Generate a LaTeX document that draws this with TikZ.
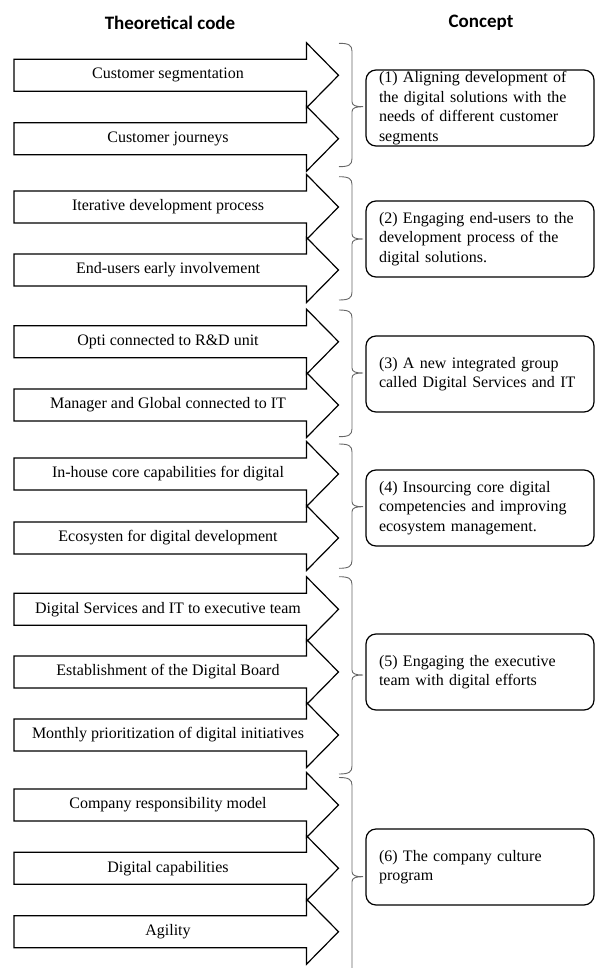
\documentclass[tikz,border=0pt]{standalone}
\usepackage{fontspec}
\setmainfont{Liberation Serif}
\newfontfamily\headfont{Carlito}

\begin{document}
\begin{tikzpicture}[x=1pt,y=-1pt,
    arrowbox/.style={draw=black, fill=white, line width=1.2pt, line join=miter},
    arrowtext/.style={font=\fontsize{16}{19.5}\selectfont},
    conceptbox/.style={draw=black, line width=1.2pt, rounded corners=10pt,
        minimum width=228pt, minimum height=76pt, text width=202pt,
        align=left, inner sep=0pt, font=\fontsize{16}{19.5}\selectfont},
    bracket/.style={draw=black!60, line width=0.9pt},
    header/.style={font=\headfont\bfseries\fontsize{19}{23}\selectfont}]

    \useasboundingbox (0,0) rectangle (595,968);

    % Column headers
    \node[header] (hcode) at (170,23) {Theoretical code};
    \node[header] (hconcept) at (481,23) {Concept};

    % Theoretical codes as block arrows
    \foreach \y/\txt [count=\i] in {59.3/Customer segmentation,
            122.7/Customer journeys,
            191/Iterative development process,
            254/End-users early involvement,
            325.7/Opti connected to R\&D unit,
            389/Manager and Global connected to IT,
            458/In-house core capabilities for digital,
            522/Ecosysten for digital development,
            593.3/Digital Services and IT to executive team,
            656/Establishment of the Digital Board,
            719/Monthly prioritization of digital initiatives,
            789/Company responsibility model,
            852.3/Digital capabilities,
            915.7/Agility}
    {
        \draw[arrowbox] (14,\y) -- (306.5,\y) -- (306.5,\y-16.5) -- (338.5,\y+16)
            -- (306.5,\y+48.5) -- (306.5,\y+32) -- (14,\y+32) -- cycle;
        \node[arrowtext] (a\i) at (168,\y+16) {\txt};
    }

    % Braces grouping the codes
    \foreach \t/\m/\b [count=\i] in {43.3/106.7/166.7, 176.7/239/300,
            310/373/436.7, 444/506.7/568.3, 576.7/675/774, 777.5/876.7/976}
    {
        \coordinate (tip\i) at (363,\m);
        \draw[bracket] (339,\t) .. controls (349,\t) and (352,\t+2) .. (352,\t+8)
            -- (352,\m-5) .. controls (352,\m-1) and (356,\m) .. (tip\i)
            .. controls (356,\m) and (352,\m+1) .. (352,\m+5)
            -- (352,\b-8) .. controls (352,\b-2) and (349,\b) .. (339,\b);
    }

    % Concepts
    \node[conceptbox] (c1) at (480,108) {(1) Aligning development of\\
        the digital solutions with the\\ needs of different customer\\ segments};
    \node[conceptbox] (c2) at (480,239) {(2) Engaging end-users to the\\
        development process of the\\ digital solutions.};
    \node[conceptbox] (c3) at (480,374) {(3) A new integrated group\\
        called Digital Services and IT};
    \node[conceptbox] (c4) at (480,508) {(4) Insourcing core digital\\
        competencies and improving\\ ecosystem management.};
    \node[conceptbox] (c5) at (480,672) {(5) Engaging the executive\\
        team with digital efforts};
    \node[conceptbox] (c6) at (480,867) {(6) The company culture\\ program};
\end{tikzpicture}
\end{document}
